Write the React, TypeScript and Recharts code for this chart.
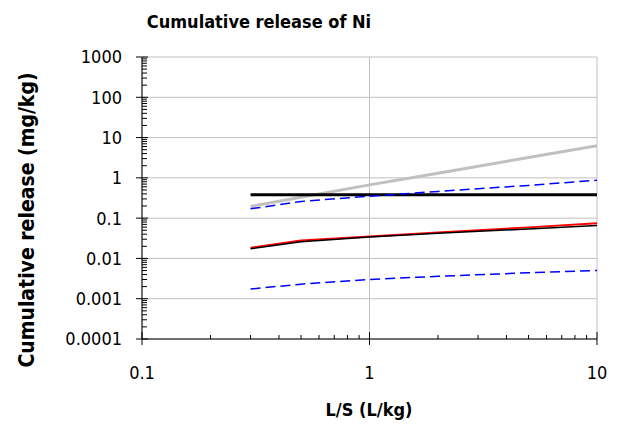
import { LineChart, Line, XAxis, YAxis, CartesianGrid } from "recharts";

// L/S-värden (L/kg) där alla serier är avlästa
const lsValues = [0.3, 0.5, 1, 2, 5, 10];

// Serier (mg/kg)
const blackThick = [0.38, 0.38, 0.38, 0.38, 0.38, 0.38];
const grey = [0.195, 0.33, 0.67, 1.3, 3.2, 6.3];
const blueUpper = [0.17, 0.26, 0.35, 0.46, 0.65, 0.87];
const red = [0.0184, 0.028, 0.035, 0.044, 0.059, 0.075];
const blackThin = [0.0175, 0.026, 0.034, 0.042, 0.054, 0.066];
const blueLower = [0.00174, 0.0023, 0.003, 0.0036, 0.0044, 0.005];

// Axlar
const xMajorTicks = [0.1, 1, 10];
const yMajorTicks = [0.0001, 0.001, 0.01, 0.1, 1, 10, 100, 1000];
const minorSteps = [2, 3, 4, 5, 6, 7, 8, 9];

const FONT = "'DejaVu Sans Condensed', 'DejaVu Sans', sans-serif";

// Huvudtick + mindre tick (2..9) inom varje dekad
const withMinor = (majors: number[]) => {
  const out: number[] = [];
  majors.forEach((m, i) => {
    out.push(m);
    if (i < majors.length - 1) minorSteps.forEach((d) => out.push(+(m * d).toPrecision(3)));
  });
  return out;
};

const isMajor = (v: number) => Math.abs(Math.log10(v) - Math.round(Math.log10(v))) < 1e-6;

const data = lsValues.map((ls, i) => ({
  ls,
  blackThick: blackThick[i],
  grey: grey[i],
  blueUpper: blueUpper[i],
  red: red[i],
  blackThin: blackThin[i],
  blueLower: blueLower[i],
}));

const YTick = ({ x, y, payload }: any) => {
  const v = payload.value;
  const major = isMajor(v);
  return (
    <g>
      {major ? (
        <line x1={x - 6} x2={x + 6} y1={y} y2={y} stroke="#000" />
      ) : (
        <line x1={x} x2={x + 5} y1={y} y2={y} stroke="#000" />
      )}
      {major && (
        <text x={x - 20} y={y} dy="0.36em" textAnchor="end" fontFamily={FONT} fontSize={18} fill="#000">
          {String(v)}
        </text>
      )}
    </g>
  );
};

const XTick = ({ x, y, payload }: any) => {
  const v = payload.value;
  const major = isMajor(v);
  return (
    <g>
      {major ? (
        <line x1={x} x2={x} y1={y - 7} y2={y + 6} stroke="#000" />
      ) : (
        <line x1={x} x2={x} y1={y} y2={y - 4} stroke="#000" />
      )}
      {major && (
        <text x={x} y={y + 40} textAnchor="middle" fontFamily={FONT} fontSize={18} fill="#000">
          {String(v)}
        </text>
      )}
    </g>
  );
};

export default function App() {
  return (
    <div style={{ position: "absolute", left: 0, top: 0, background: "#fff" }}>
      <LineChart width={621} height={425} data={data} margin={{ top: 57, right: 24, left: 0, bottom: 0 }}>
        <CartesianGrid
          stroke="#c0c0c0"
          horizontalValues={yMajorTicks}
          verticalValues={xMajorTicks}
        />
        <XAxis
          dataKey="ls"
          type="number"
          scale="log"
          domain={[0.1, 10]}
          allowDataOverflow
          ticks={withMinor(xMajorTicks)}
          interval={0}
          tick={XTick}
          tickLine={false}
          tickSize={0}
          tickMargin={0}
          axisLine={{ stroke: "#000" }}
          height={86}
        />
        <YAxis
          type="number"
          scale="log"
          domain={[0.0001, 1000]}
          allowDataOverflow
          ticks={withMinor(yMajorTicks)}
          interval={0}
          tick={YTick}
          tickLine={false}
          tickSize={0}
          tickMargin={0}
          axisLine={{ stroke: "#000" }}
          width={142}
        />
        <Line dataKey="grey" stroke="#c0c0c0" strokeWidth={3} dot={false} isAnimationActive={false} />
        <Line dataKey="blackThick" stroke="#000" strokeWidth={3} dot={false} isAnimationActive={false} />
        <Line dataKey="blueUpper" stroke="#0000ff" strokeWidth={1.5} strokeDasharray="10 5" dot={false} isAnimationActive={false} />
        <Line dataKey="red" stroke="#ff0000" strokeWidth={2} dot={false} isAnimationActive={false} />
        <Line dataKey="blackThin" stroke="#000" strokeWidth={1.5} dot={false} isAnimationActive={false} />
        <Line dataKey="blueLower" stroke="#0000ff" strokeWidth={1.5} strokeDasharray="10 5" dot={false} isAnimationActive={false} />
        <text x={259} y={28} textAnchor="middle" fontFamily={FONT} fontSize={18} fontWeight="bold" fill="#000">
          Cumulative release of Ni
        </text>
        <text x={369} y={416} textAnchor="middle" fontFamily={FONT} fontSize={18} fontWeight="bold" fill="#000">
          L/S (L/kg)
        </text>
        <text
          x={34}
          y={220}
          transform="rotate(-90 34 220)"
          textAnchor="middle"
          fontFamily={FONT}
          fontSize={21}
          fontWeight="bold"
          fill="#000"
        >
          Cumulative release (mg/kg)
        </text>
      </LineChart>
    </div>
  );
}
